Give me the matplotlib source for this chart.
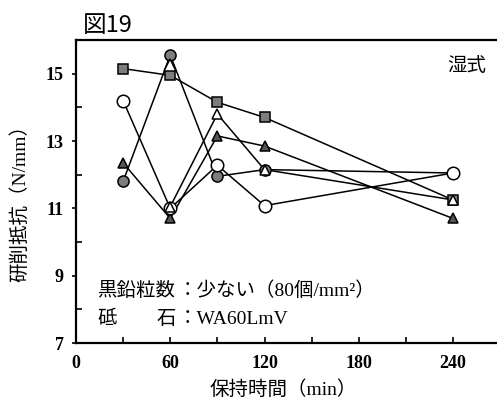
import numpy as np
import matplotlib.pyplot as plt
from matplotlib.ticker import MultipleLocator

# holding time (min)
times = [30, 60, 90, 120, 240]
times_otri = [60, 90, 120, 240]

# grinding resistance (N/mm)
sq_vals = [15.15, 14.95, 14.15, 13.7, 11.25]
fcirc_vals = [11.8, 15.55, 11.95, 12.15, 12.05]
ocirc_vals = [14.2, 11.0, 12.28, 11.08, 12.05]
ftri_vals = [12.35, 10.7, 13.15, 12.85, 10.7]
otri_vals = [11.05, 13.8, 12.15, 11.25]
stray_x = [60]
stray_y = [15.26]

serif = ['Liberation Serif', 'Noto Sans CJK JP']
cjk = ['Noto Sans CJK JP', 'Liberation Serif']

fig = plt.figure(figsize=(4.97, 4.07), dpi=100)
ax = fig.add_axes([76/497, 1-343/407, (497-76)/497, (343-40)/407])

gray = '#7d7d7d'
series = [
    (times, sq_vals, dict(marker='s', ms=7, mfc=gray)),
    (times, fcirc_vals, dict(marker='o', ms=8, mfc=gray)),
    (times, ftri_vals, dict(marker='^', ms=6.5, mfc='#555555')),
    (times, ocirc_vals, dict(marker='o', ms=9, mfc='white')),
    (times_otri, otri_vals, dict(marker='^', ms=7.5, mfc='white')),
]
for xs, ys, mk in series:
    ax.plot(xs, ys, color='black', lw=1.1, zorder=2)
for xs, ys, mk in series:
    ax.plot(xs, ys, ls='none', mec='black', mew=1.1, zorder=3, **mk)
ax.plot(stray_x, stray_y, ls='none', marker='^', ms=8, mfc='white',
        mec='black', mew=1.1, zorder=3)

ax.set_xlim(0, 268)
ax.set_ylim(7, 16)
ax.xaxis.set_major_locator(MultipleLocator(60))
ax.xaxis.set_minor_locator(MultipleLocator(30))
ax.yaxis.set_major_locator(MultipleLocator(2, offset=1))
ax.yaxis.set_minor_locator(MultipleLocator(1))
ax.tick_params(which='both', direction='in', length=4, width=1.2)
ax.tick_params(axis='y', which='major', direction='out', length=3)
ax.tick_params(axis='x', pad=9)
ax.tick_params(axis='y', pad=6)
for lab in ax.get_xticklabels() + ax.get_yticklabels():
    lab.set_family(serif)
    lab.set_fontsize(13)
    lab.set_fontweight('bold')

ax.spines['right'].set_visible(False)
for s in ['left', 'bottom', 'top']:
    ax.spines[s].set_linewidth(1.6)

fig.text(83/497, 1-32/407, '図19', family=cjk, fontsize=17, va='baseline')
ax.text(0.975, 0.95, '湿式', transform=ax.transAxes, family=cjk,
        fontsize=14, ha='right', va='top')

fig.text(20/497, 1-198/407, '研削抵抗（N/mm）', family=serif, fontsize=14,
         rotation=90, ha='center', va='center')
fig.text(283/497, 1-390/407, '保持時間（min）', family=serif, fontsize=14,
         ha='center', va='center')

fig.text(97/497, 1-291/407, '黒鉛粒数', family=serif, fontsize=14, va='center')
fig.text(178/497, 1-291/407, '：少ない（80個/mm²）', family=serif, fontsize=14,
         va='center')
fig.text(97/497, 1-319/407, '砥', family=serif, fontsize=14, va='center')
fig.text(157/497, 1-319/407, '石', family=serif, fontsize=14, va='center')
fig.text(178/497, 1-319/407, '：WA60LmV', family=serif, fontsize=14,
         va='center')

fig.savefig('out.png', dpi=100)
